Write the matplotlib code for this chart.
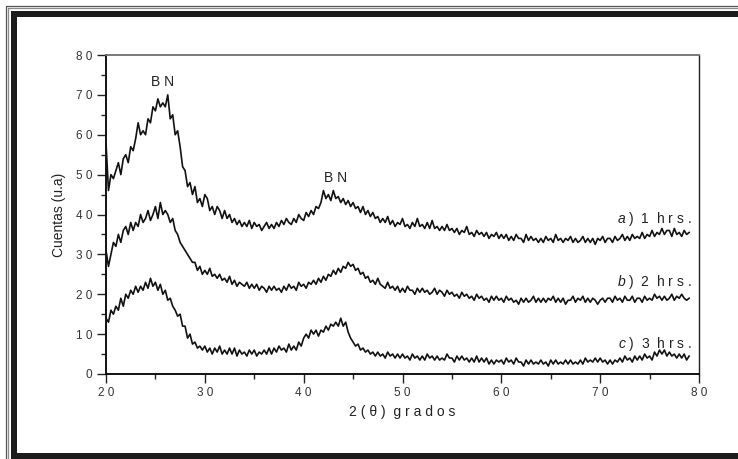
import numpy as np
import matplotlib
matplotlib.use("Agg")
import matplotlib.pyplot as plt
from matplotlib.patches import Rectangle
from matplotlib.lines import Line2D
from matplotlib.ticker import MultipleLocator, FuncFormatter

plt.rcParams['font.family'] = ['Liberation Sans', 'DejaVu Sans']
plt.rcParams['mathtext.fontset'] = 'custom'
plt.rcParams['mathtext.it'] = 'Liberation Sans:italic'
plt.rcParams['mathtext.rm'] = 'Liberation Sans'

# 2-theta grid, 0.25 deg steps from 20 to 79
two_theta = np.linspace(20, 79, 237)

# a) 1 hrs.
counts_1h = [
    58, 46, 50, 49,  51, 53, 50, 54,  55, 53, 57, 56,  59, 63, 60, 61,
    60, 64, 63, 67,  66, 69, 67, 68,  67, 70, 64, 65,  60, 61, 57, 52,
    51, 47, 48, 45,  47, 43, 44, 42,  45, 44, 41, 42,  40, 42, 41, 39,
    41, 39, 40, 38,  39, 37.5, 38.5, 37,  38, 37, 38.5, 36.5,  38, 37, 37.5, 36,
    37, 38, 36.5, 37.5,  36.5, 38, 37, 38.5,  37.5, 39, 38, 37.5,  39, 38, 40, 39,
    38.5, 40.5, 39.5, 41,  40, 42, 41.5, 43,  46, 44, 45, 43.5,  46, 44, 44.5, 43,
    44, 42.5, 43.5, 42,  43, 41.5, 42, 40.5,  42, 40, 41, 39.5,  40.5, 39, 39.5, 38,
    39, 38, 39.5, 37.5,  38.5, 37, 38, 37.5,  39, 37, 37.5, 36.5,  38, 37, 39, 37,
    37.5, 36.5, 38, 36.5,  38.5, 36.5, 37, 36,  37, 36, 37.5, 36,  36.5, 35.5, 36.5, 35,
    36, 35.5, 37, 35,  35.5, 34.5, 36, 35,  35.5, 34.5, 35.5, 34,  35, 34.5, 35.5, 34,
    35, 34, 35, 33.5,  34.5, 33.5, 35, 34,  34, 33, 35, 33.5,  34.5, 33.5, 34, 33,
    34, 33, 34.5, 33.5,  34, 33, 35, 33.5,  34, 33, 34, 33.5,  34.5, 33, 34, 33,
    33.5, 34.5, 33, 34,  33, 34, 32.5, 34,  33.5, 34.5, 33, 34,  34, 33, 34.5, 33.5,
    34, 35, 33.5, 34.5,  33.5, 35, 34, 34.5,  34, 35.5, 34, 35,  34.5, 36, 34.5, 35.5,
    35, 36.5, 35, 36,  36, 34.5, 36.5, 35,  35.5, 34.5, 36, 35,  35.5,
]

# b) 2 hrs.
counts_2h = [
    31, 27, 30, 33,  32, 35, 33, 36,  37, 35, 38, 36,  38, 37, 40, 38,
    39, 41, 38.5, 40,  42, 39, 43, 40,  41, 40, 38, 39,  36, 35, 33, 32,
    31, 30, 29, 28,  28, 26, 27, 25,  26, 25, 26.5, 24.5,  25, 24, 25, 23.5,
    24, 23, 24.5, 22.5,  23.5, 22, 23, 22.5,  22, 23, 21.5, 22.5,  21.5, 22.5, 21, 22,
    21.5, 20.5, 22, 21,  22, 21, 21.5, 20.5,  22, 21, 22.5, 21.5,  22, 21, 23, 22,
    22.5, 21.5, 23, 22.5,  23.5, 22.5, 24, 23,  24.5, 23.5, 25, 24.5,  26, 25, 26.5, 25.5,
    27, 26.5, 28, 27,  27.5, 26, 26.5, 25,  25.5, 24, 24.5, 23,  23.5, 22.5, 24, 22.5,
    22, 21.5, 23, 21.5,  22, 21, 22, 20.5,  21.5, 20.5, 22, 21,  21, 20, 21.5, 20.5,
    21.5, 20.5, 21, 20,  20.5, 21.5, 20, 21,  20.5, 19.5, 21, 20,  20.5, 19.5, 20, 19,
    20.5, 19.5, 20, 19,  19.5, 18.5, 20, 19,  19.5, 18.5, 19, 18,  19.5, 18.5, 19.5, 18.5,
    19, 18, 19.5, 18.5,  19, 18, 18.5, 17.5,  19, 18, 19, 18,  18.5, 19.5, 18, 19,
    18, 19, 18, 19,  18.5, 19.5, 18, 19,  18, 19, 17.5, 18.5,  18.5, 19.5, 18, 19,
    18.5, 19.5, 18, 19,  18, 19, 18.5, 17.5,  18.5, 19, 18, 19,  19, 18, 19.5, 18.5,
    19, 18, 19.5, 18.5,  18.5, 19.5, 18, 19,  19, 18, 19.5, 18.5,  19, 18.5, 20, 19,
    19.5, 18.5, 19.5, 18.5,  19, 20, 18.5, 19.5,  19, 20, 19, 18.5,  19,
]

# c) 3 hrs.
counts_3h = [
    14, 13, 16, 15,  17, 16, 19, 17,  20, 19, 21, 20,  22, 20.5, 22, 21,
    23, 21.5, 24, 22,  23, 21, 22.5, 20,  21, 18.5, 19, 17,  16, 14.5, 15, 12,
    12, 9, 10, 7.5,  8, 6.5, 7, 6,  7, 5.5, 6.5, 5,  6.5, 5.5, 7, 5,
    6, 5, 6.5, 5,  6.5, 4.5, 6, 5,  5.5, 4.5, 6, 5,  6, 4.5, 5.5, 5,
    6, 5, 6.5, 5,  6.5, 5.5, 7, 6,  6.5, 5.5, 7.5, 6,  7, 6, 8, 7,
    9, 10, 9, 11,  10, 11, 9.5, 11,  10.5, 12, 11, 12.5,  12, 13, 12, 14,
    12, 13, 10.5, 9,  8, 7, 7.5, 6,  6.5, 5.5, 6, 5,  5.5, 4.5, 5.5, 4.5,
    5, 4, 5.5, 4.5,  5, 4, 5, 4,  5, 4, 4.5, 3.5,  5, 4, 4.5, 3.5,
    4.5, 3.5, 5, 4,  4.5, 3.5, 4.5, 3.5,  4, 3.5, 5, 4,  4, 3, 4.5, 3.5,
    4.5, 3.5, 4, 3,  4, 3, 4.5, 3,  4, 3, 4, 2.5,  3.5, 2.5, 3.5, 3,
    3.5, 2.5, 4, 3,  3.5, 2.5, 4, 3,  3, 2, 3.5, 2.5,  3.5, 2.5, 3, 2.5,
    3.5, 2.5, 3, 2,  3.5, 2.5, 3.5, 2.5,  3, 2.5, 3.5, 2.5,  3.5, 2.5, 3, 2.5,
    3.5, 2.5, 4, 3,  3.5, 3, 4, 3,  4, 3, 3.5, 2.5,  3.5, 2.5, 3.5, 3,
    4, 3, 4.5, 3.5,  4, 3, 4.5, 3.5,  4.5, 3.5, 5, 4,  4.5, 3.5, 5.5, 4.5,
    6, 5, 6, 4.5,  5.5, 4.5, 5, 4,  5, 4, 5, 3.5,  4.5,
]

series = [counts_1h, counts_2h, counts_3h]
labels = [r"$\it{a}$ )  1  h r s .", r"$\it{b}$ )  2  h r s .", r"$\it{c}$ )  3  h r s ."]
label_y = [38.8, 23.0, 7.5]
peak_labels = [(25.7, 73.3), (43.2, 49.2)]

W, H = 738, 459
fig = plt.figure(figsize=(W / 100, H / 100), dpi=100)
fig.patch.set_facecolor('white')

# decorative frame (pixel coordinates converted to figure fraction)
def px_rect(x0, y0, x1, y1, color):
    fig.add_artist(Rectangle((x0 / W, 1 - y1 / H), (x1 - x0) / W, (y1 - y0) / H,
                             transform=fig.transFigure, facecolor=color,
                             edgecolor='none', zorder=0))

def px_line(xs, ys, color, lw):
    fig.add_artist(Line2D([x / W for x in xs], [1 - y / H for y in ys],
                          transform=fig.transFigure, color=color, lw=lw,
                          solid_capstyle='butt'))

for off, col in [(5.5, '#555555'), (7.6, '#8a8a8a')]:
    px_line([off, off, W + 2], [H + 2, off, off], col, 0.9)
px_rect(10.7, 10.7, W + 2, 17.3, '#1c1c1c')
px_rect(10.7, 10.7, 17.3, 459.5, '#1c1c1c')
px_rect(10.7, 453.0, W + 2, 460, '#1c1c1c')

ax = fig.add_axes([106 / W, 1 - 374 / H, (699 - 106) / W, (374 - 55) / H])

for y in series:
    ax.plot(two_theta, y, color='#111111', lw=1.2)

ax.set_xlim(20, 80)
ax.set_ylim(0, 80)
ax.xaxis.set_major_locator(MultipleLocator(10))
ax.xaxis.set_minor_locator(MultipleLocator(5))
ax.yaxis.set_major_locator(MultipleLocator(10))
ax.yaxis.set_minor_locator(MultipleLocator(5))
spaced = FuncFormatter(lambda v, p: ' '.join(str(int(round(v)))))
ax.xaxis.set_major_formatter(spaced)
ax.yaxis.set_major_formatter(spaced)
ax.tick_params(which='major', direction='out', length=6.5, width=1.0,
               labelsize=8.5, labelcolor='#333333', color='#222222')
ax.tick_params(which='minor', direction='out', length=3.5, width=1.0, color='#222222')
ax.tick_params(axis='y', pad=3.5)
ax.tick_params(axis='x', pad=3)

for side in ['left', 'bottom']:
    ax.spines[side].set_linewidth(1.4)
    ax.spines[side].set_color('#111111')
ax.spines['top'].set_color('#707070')
ax.spines['top'].set_linewidth(1.3)
ax.spines['right'].set_color('#222222')
ax.spines['right'].set_linewidth(1.0)

ax.set_xlabel("2 ( \u03b8 )  g r a d o s", fontsize=10, color='#222222', labelpad=4)
ax.set_ylabel("Cuentas (u.a)", fontsize=10, color='#222222', labelpad=7)

for (px, py) in peak_labels:
    ax.text(px, py, "B N", ha='center', va='center', fontsize=10, color='#222222')

for lab, yy in zip(labels, label_y):
    ax.text(79.3, yy, lab, ha='right', va='center', fontsize=10, color='#222222')

fig.savefig('out.png', dpi=100)
